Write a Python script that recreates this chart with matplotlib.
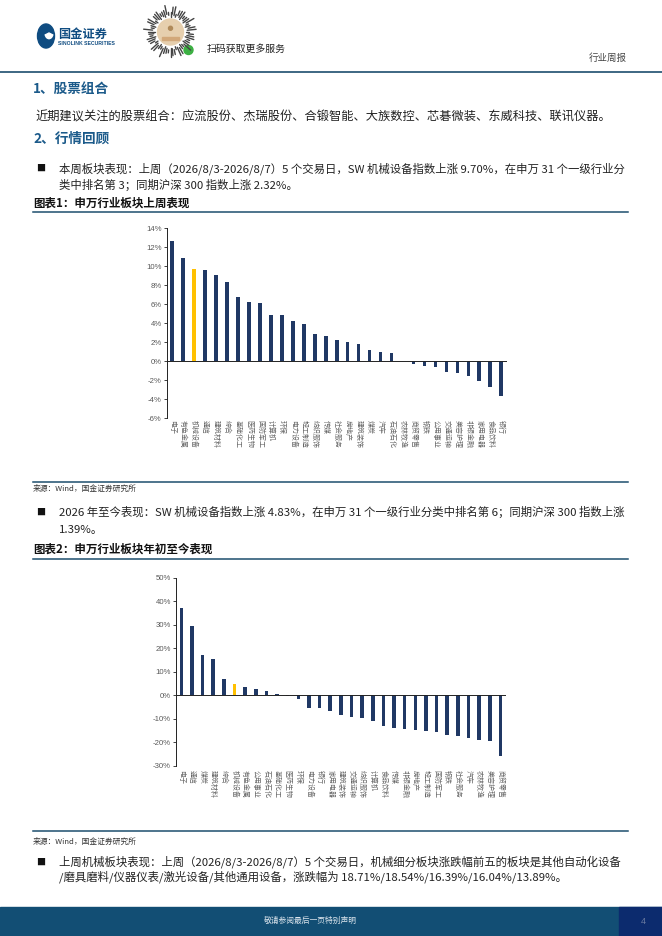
import numpy as np
import matplotlib.pyplot as plt
from matplotlib.lines import Line2D
from matplotlib.patches import Rectangle, Circle, Wedge

plt.rcParams['font.family'] = ['Noto Sans CJK SC', 'DejaVu Sans']

# chart 1: last week's performance by SW industry (%)
cats1 = ['电子', '有色金属', '机械设备', '通信', '建筑材料', '综合', '基础化工', '医药生物',
         '国防军工', '计算机', '环保', '电力设备', '轻工制造', '纺织服饰', '传媒', '社会服务',
         '房地产', '建筑装饰', '煤炭', '汽车', '石油石化', '农林牧渔', '商贸零售', '钢铁',
         '公用事业', '交通运输', '美容护理', '非银金融', '家用电器', '食品饮料', '银行']
vals1 = [12.63, 10.91, 9.70, 9.65, 9.12, 8.32, 6.77, 6.28, 6.18, 4.91, 4.91, 4.28, 3.89,
         2.91, 2.63, 2.28, 2.07, 1.82, 1.19, 1.02, 0.91, 0.05, -0.32, -0.53, -0.63, -1.16,
         -1.26, -1.58, -2.10, -2.74, -3.68]
ticks1 = [14, 12, 10, 8, 6, 4, 2, 0, -2, -4, -6]

# chart 2: year-to-date performance by SW industry (%)
cats2 = ['电子', '通信', '煤炭', '建筑材料', '综合', '机械设备', '有色金属', '公用事业',
         '石油石化', '基础化工', '医药生物', '环保', '电力设备', '银行', '家用电器', '建筑装饰',
         '交通运输', '纺织服饰', '计算机', '食品饮料', '传媒', '非银金融', '房地产', '轻工制造',
         '国防军工', '钢铁', '社会服务', '汽车', '农林牧渔', '美容护理', '商贸零售']
vals2 = [37.3, 29.6, 17.3, 15.2, 6.7, 4.83, 3.7, 2.8, 2.0, 0.4, -0.4, -1.7, -5.5, -5.5,
         -6.8, -8.4, -9.2, -9.8, -10.9, -13.0, -14.0, -14.2, -15.0, -15.3, -15.5, -17.0,
         -17.4, -18.2, -19.0, -19.4, -25.8]
ticks2 = [50, 40, 30, 20, 10, 0, -10, -20, -30]

highlight = '机械设备'

W, H = 662, 936
fig = plt.figure(figsize=(W / 100, H / 100), dpi=100)


def fx(x):
    return x / W


def fy(y):
    return 1 - y / H


def hline(y, x0, x1, color='#1d4e6e', lw=1.1):
    fig.add_artist(Line2D([fx(x0), fx(x1)], [fy(y), fy(y)], color=color, lw=lw))


def txt(x, y, s, size=8.2, color='#222222', **kw):
    fig.text(fx(x), fy(y), s, fontsize=size, color=color, va='center', **kw)


# ---- header ----
fig.add_artist(Circle((fx(46), fy(36)), 8.5 / W, color='#0f4c81',
                      transform=fig.transFigure))
fig.add_artist(Wedge((fx(49), fy(33)), 4.0 / W, 200, 340, color='white',
                     transform=fig.transFigure))
txt(58, 34, '国金证券', size=8.8, color='#0f4c81', fontweight='bold')
txt(58, 43.5, 'SINOLINK SECURITIES', size=3.7, color='#0f4c81', fontweight='bold',
    family='Liberation Sans')

# mini-program code placeholder
qr = fig.add_axes([fx(143), fy(60), 55 / W, 56 / H])
qr.set_xlim(-1.1, 1.1)
qr.set_ylim(-1.1, 1.1)
qr.set_aspect('equal')
qr.axis('off')
ang = np.linspace(0, 2 * np.pi, 60, endpoint=False)
for i, a in enumerate(ang):
    r0 = 0.62 + 0.05 * (i % 3)
    r1 = r0 + 0.12 + 0.08 * ((i * 7) % 4)
    qr.plot([r0 * np.cos(a), r1 * np.cos(a)], [r0 * np.sin(a), r1 * np.sin(a)],
            color='#444444', lw=1.0, solid_capstyle='round')
qr.add_patch(Circle((0, 0), 0.52, color='#e6cfae'))
qr.add_patch(Circle((0, 0.15), 0.08, color='#b08a5a'))
qr.add_patch(Rectangle((-0.35, -0.32), 0.7, 0.14, color='#d2a87a'))
qr.add_patch(Circle((0.72, -0.72), 0.18, color='#3cb043'))

txt(207, 49, '扫码获取更多服务', size=7.1, color='#222222')
txt(627, 58, '行业周报', size=6.8, color='#444444', ha='right')
hline(72, 0, 662, lw=1.2)

# ---- section text ----
blue_head = '#1b5a8a'
txt(33, 89, '1、股票组合', size=9.8, color=blue_head, fontweight='bold')
txt(35, 117, '近期建议关注的股票组合：应流股份、杰瑞股份、合锻智能、大族数控、芯碁微装、'
    '东威科技、联讯仪器。', size=8.8)
txt(33, 139, '2、行情回顾', size=9.8, color=blue_head, fontweight='bold')

bullet = '■'
txt(36, 168.5, bullet, size=6.5, color='#111111')
txt(59, 168.5, '本周板块表现：上周（2026/8/3-2026/8/7）5 个交易日，SW 机械设备指数上涨 9.70%，'
    '在申万 31 个一级行业分', size=8.2)
txt(59, 185, '类中排名第 3；同期沪深 300 指数上涨 2.32%。', size=8.2)
txt(33, 203.5, '图表1：申万行业板块上周表现', size=8.3, color='#111111', fontweight='bold')
hline(211.5, 33, 628)


def bar_chart(rect, cats, vals, ticks, label_size, pad):
    ax = fig.add_axes(rect)
    x = np.arange(len(cats))
    colors = ['#ffc000' if c == highlight else '#203864' for c in cats]
    ax.bar(x, vals, width=0.33, color=colors, zorder=2)
    ax.set_xlim(-0.5, len(cats) - 0.5)
    ax.set_ylim(min(ticks), max(ticks))
    ax.set_yticks(ticks)
    ax.set_yticklabels([f'{t}%' for t in ticks], fontsize=5.6, color='#595959',
                       family='Liberation Sans')
    ax.set_xticks(x)
    ax.set_xticklabels(cats, rotation=-90, fontsize=label_size, color='#666666',
                       va='top', ha='center')
    ax.tick_params(axis='x', length=0, pad=pad)
    ax.tick_params(axis='y', direction='out', length=2.2, width=0.6, color='#222222', pad=1.5)
    for s in ['top', 'right', 'bottom']:
        ax.spines[s].set_visible(False)
    ax.spines['left'].set_linewidth(0.7)
    ax.spines['left'].set_color('#222222')
    ax.axhline(0, color='#222222', lw=0.7, zorder=3)
    return ax


bar_chart([fx(166.7), fy(418.3), 340 / W, 190 / H], cats1, vals1, ticks1, 5.0, 1.5)

hline(481.7, 33, 628)
txt(33, 489, '来源：Wind，国金证券研究所', size=5.6, color='#333333')

txt(36, 512, bullet, size=6.5, color='#111111')
txt(59, 512, '2026 年至今表现：SW 机械设备指数上涨 4.83%，在申万 31 个一级行业分类中排名第 6；'
    '同期沪深 300 指数上涨', size=8.2)
txt(59, 529.5, '1.39%。', size=8.2)
txt(33, 549, '图表2：申万行业板块年初至今表现', size=8.3, color='#111111', fontweight='bold')
hline(558.5, 33, 628)

bar_chart([fx(176), fy(765.7), 329.7 / W, 188 / H], cats2, vals2, ticks2, 5.0, 3)

hline(831, 33, 628)
txt(33, 841.7, '来源：Wind，国金证券研究所', size=5.6, color='#333333')

txt(36, 862, bullet, size=6.5, color='#111111')
txt(59, 862, '上周机械板块表现：上周（2026/8/3-2026/8/7）5 个交易日，机械细分板块涨跌幅前五的'
    '板块是其他自动化设备', size=8.2)
txt(59, 877, '/磨具磨料/仪器仪表/激光设备/其他通用设备，涨跌幅为 18.71%/18.54%/16.39%/'
    '16.04%/13.89%。', size=8.2)

# ---- footer ----
fig.add_artist(Rectangle((0, 0), 1, fy(907), color='#124e74', transform=fig.transFigure))
fig.add_artist(Rectangle((fx(619), 0), 1 - fx(619), fy(907), color='#0c2b6e',
                         transform=fig.transFigure))
txt(310, 921, '敬请参阅最后一页特别声明', size=5.6, color='#dde6ee', ha='center')
txt(643, 921, '4', size=6.5, color='#6a7aa0', ha='center', family='Liberation Sans')

fig.savefig('out.png', dpi=100)
